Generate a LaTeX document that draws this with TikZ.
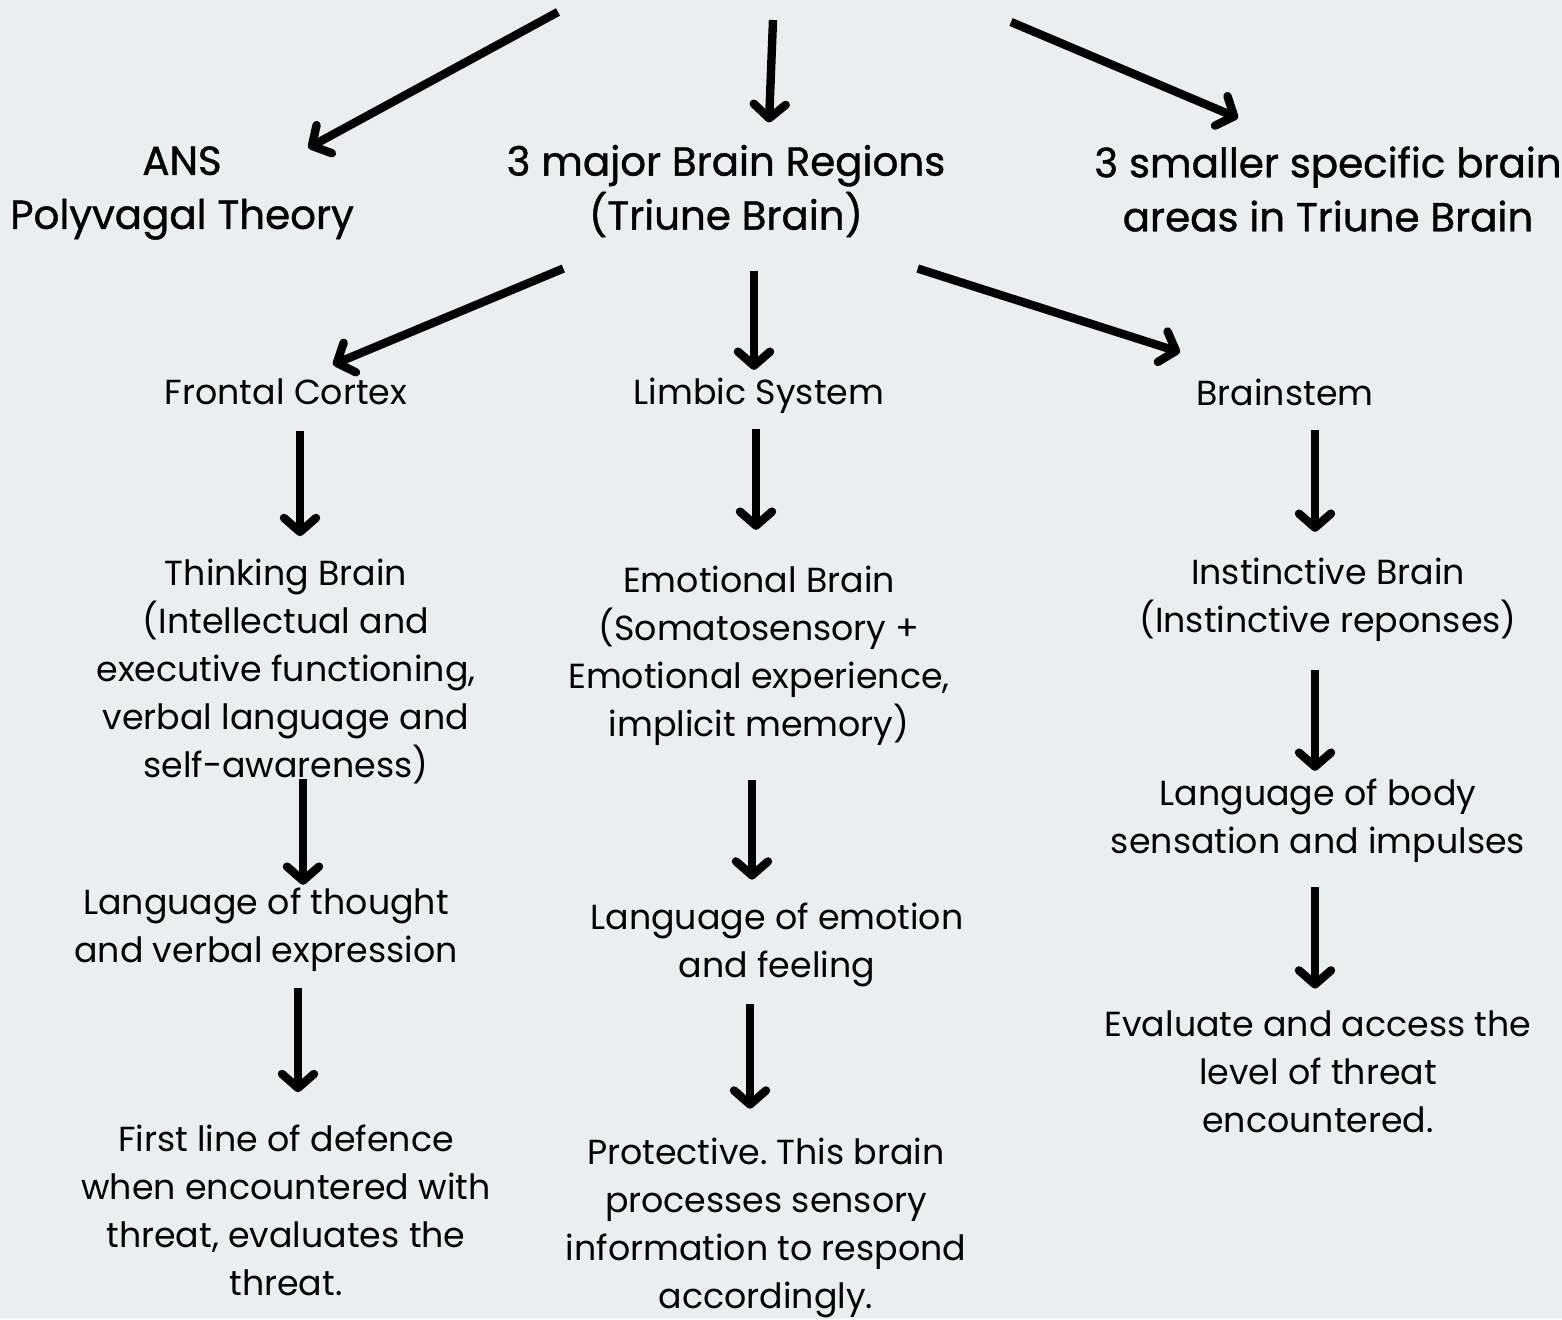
\documentclass[tikz,border=0pt]{standalone}
\usepackage{fontspec}
\setmainfont{Poppins}
\newfontfamily\headfont{Poppins}[FakeBold=1]
\usetikzlibrary{arrows.meta}
\definecolor{bgcol}{HTML}{EBEEEF}
\frenchspacing

\begin{document}
\begin{tikzpicture}[x=0.5pt,y=-0.5pt,
    arr/.style={line width=4.2pt,-{Straight Barb[length=7pt,width=16pt,round]}},
    head/.style={align=center,inner sep=0pt,font=\headfont\fontsize{20.2}{27}\selectfont},
    txt/.style={align=center,inner sep=0pt,font=\fontsize{17.4}{24}\selectfont}]
  \fill [bgcol] (0,0) rectangle (1562,1319) ;
  \useasboundingbox (0,0) rectangle (1562,1319) ;

  % loose ends of the title arrows (title runs off the top)
  \coordinate (t1) at (558,12) ;
  \coordinate (t2) at (773,20) ;
  \coordinate (t3) at (1011,22) ;

  % second row
  \node [head] (ans) at (182,193) {ANS\\Polyvagal Theory} ;
  \node [head] (major) at (726,191) {3 major Brain Regions\\(Triune Brain)} ;
  \node [head] (smaller) at (1328,189) {3 smaller specific brain\\areas in Triune Brain} ;

  % the three regions
  \node [txt] (frontal) at (286,392) {Frontal Cortex} ;
  \node [txt] (limbic) at (759,396) {Limbic System} ;
  \node [txt] (stem) at (1285,392) {Brainstem} ;

  % left column
  \node [txt] (thinking) at (286,671) {Thinking Brain\\(Intellectual and\\executive functioning,\\verbal language and\\self-awareness)} ;
  \node [txt] (lthought) at (266,930) {Language of thought\\and verbal expression} ;
  \node [txt] (defence) at (286,1210) {First line of defence\\when encountered with\\threat, evaluates the\\threat.} ;

  % middle column
  \node [txt] (emotional) at (759,656) {Emotional Brain\\(Somatosensory +\\Emotional experience,\\implicit memory)} ;
  \node [txt] (lemotion) at (777,945) {Language of emotion\\and feeling} ;
  \node [txt] (protective) at (766,1228) {Protective. This brain\\processes sensory\\information to respond\\accordingly.} ;

  % right column
  \node [txt] (instinctive) at (1328,600) {Instinctive Brain\\(Instinctive reponses)} ;
  \node [txt] (lbody) at (1318,821) {Language of body\\sensation and impulses} ;
  \node [txt] (evaluate) at (1318,1072) {Evaluate and access the\\level of threat\\encountered.} ;

  % arrows
  \draw [arr] (t1) -- ([shift={(-46,2)}]ans.north east) ;
  \draw [arr] (t2) -- ([shift={(43,-22)}]major.north) ;
  \draw [arr] (t3) -- ([shift={(-90,-28)}]smaller.north) ;

  \draw [arr] ([shift={(57,31)}]major.south west) -- ([shift={(47,-14)}]frontal.north) ;
  \draw [arr] ([shift={(28,33)}]major.south) -- ([shift={(-5,-8)}]limbic.north) ;
  \draw [arr] ([shift={(-28,31)}]major.south east) -- ([shift={(-105,-26)}]stem.north) ;

  \draw [arr] ([shift={(14,26)}]frontal.south) -- ([shift={(14,-22)}]thinking.north) ;
  \draw [arr] ([shift={(17,-5)}]thinking.south) -- ([shift={(37,-3)}]lthought.north) ;
  \draw [arr] ([shift={(32,16)}]lthought.south) -- ([shift={(12,-32)}]defence.north) ;

  \draw [arr] ([shift={(-3,15)}]limbic.south) -- ([shift={(-3,-36)}]emotional.north) ;
  \draw [arr] ([shift={(-7,34)}]emotional.south) -- ([shift={(-25,-23)}]lemotion.north) ;
  \draw [arr] ([shift={(-27,17)}]lemotion.south) -- ([shift={(-16,-29)}]protective.north) ;

  \draw [arr] ([shift={(30,24)}]stem.south) -- ([shift={(-13,-26)}]instinctive.north) ;
  \draw [arr] ([shift={(-13,28)}]instinctive.south) -- ([shift={(-3,-8)}]lbody.north) ;
  \draw [arr] ([shift={(-3,24)}]lbody.south) -- ([shift={(-3,-22)}]evaluate.north) ;
\end{tikzpicture}
\end{document}
